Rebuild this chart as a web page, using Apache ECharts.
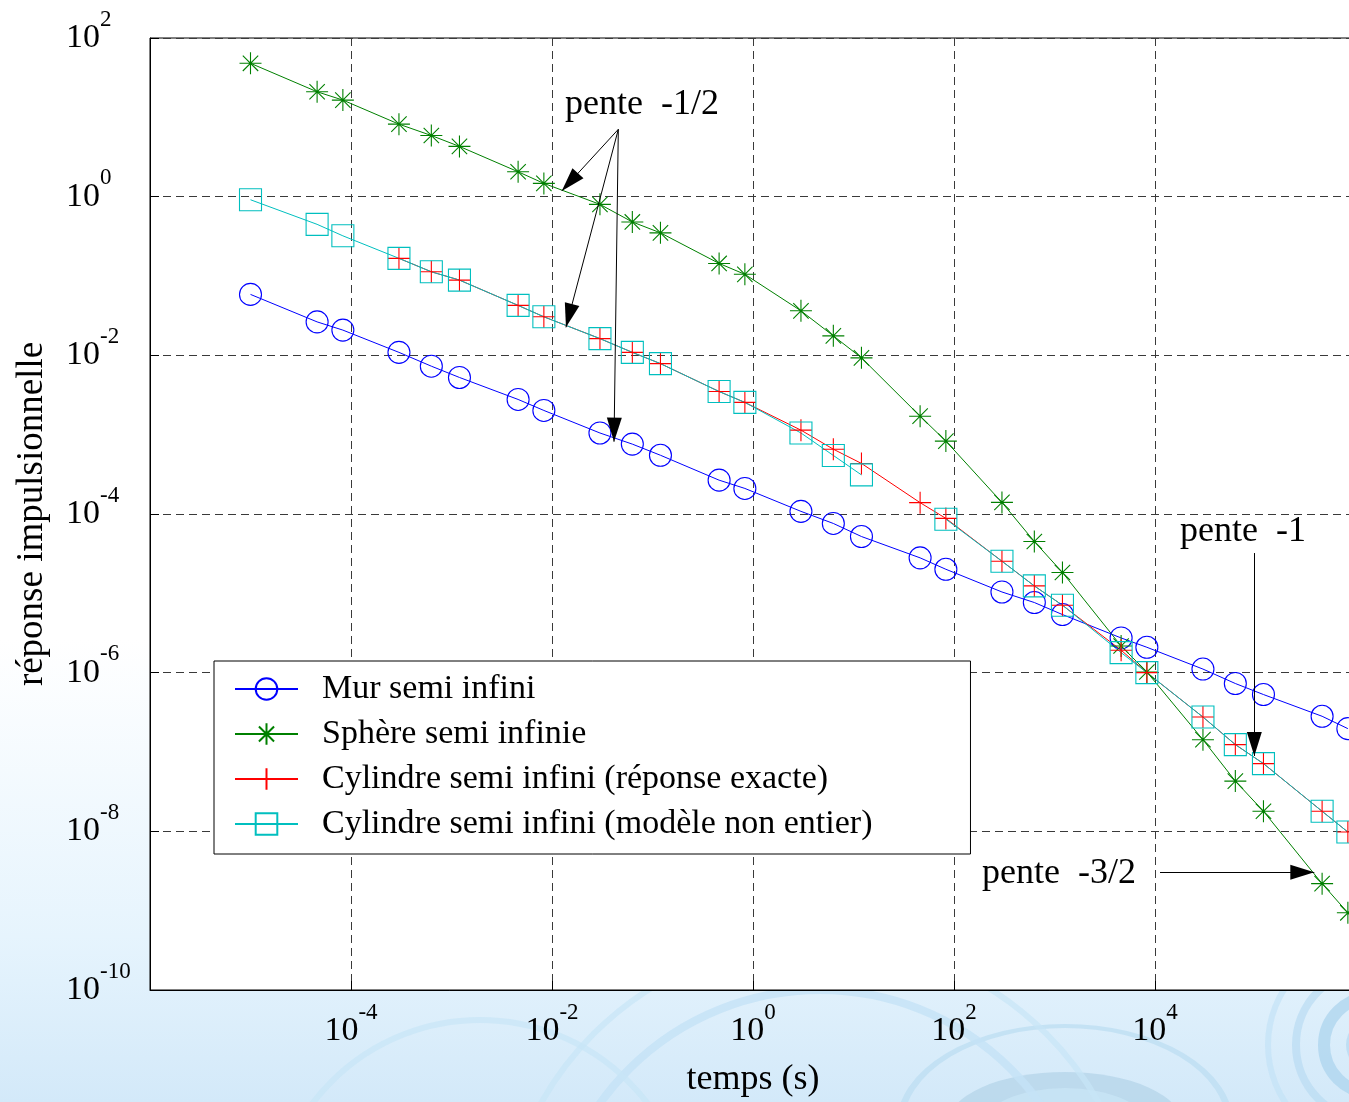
<!DOCTYPE html>
<html>
<head>
<meta charset="utf-8">
<title>Réponse impulsionnelle</title>
<script src="https://cdn.jsdelivr.net/npm/echarts@6/dist/echarts.min.js"></script>
<style>
  html, body { margin: 0; padding: 0; background: #fff; }
  #chart { width: 1349px; height: 1102px; }
</style>
</head>
<body>
<div id="chart"></div>
<script>
// instants (s)
var temps = [1e-5, 4.6e-5, 8.3e-5, 3e-4, 6.3e-4, 1.2e-3, 4.6e-3, 8.3e-3, 3e-2, 6.3e-2,
  0.12, 0.46, 0.83, 3, 6.3, 12, 46, 83, 300, 630,
  1200, 4600, 8300, 3e4, 6.3e4, 1.2e5, 4.6e5, 8.3e5];

var mur = [0.0586, 0.0264, 0.0208, 0.0109, 7.3e-3, 5.26e-3, 2.78e-3, 2.02e-3, 1.05e-3, 7.6e-4,
  5.5e-4, 2.67e-4, 2.1e-4, 1.08e-4, 7.6e-5, 5.2e-5, 2.8e-5, 2.01e-5, 1.04e-5, 7.66e-6,
  5.4e-6, 2.74e-6, 2.09e-6, 1.11e-6, 7.3e-7, 5.3e-7, 2.82e-7, 1.97e-7];

var sphere = [48, 21, 16.5, 8.2, 5.9, 4.3, 2.06, 1.47, 0.80, 0.48,
  0.35, 0.144, 0.105, 0.0364, 0.0176, 0.0093, 1.71e-3, 8.3e-4, 1.4e-4, 4.5e-5,
  1.83e-5, 2.17e-6, 1.02e-6, 1.43e-7, 4.3e-8, 1.79e-8, 2.19e-9, 9.4e-10];

var cylExact = [null, null, null, 0.167, 0.113, 0.0888, 0.0426, 0.0306, 0.01625, 0.0109,
  7.86e-3, 3.5e-3, 2.55e-3, 1.14e-3, 6.56e-4, 4.34e-4, 1.39e-4, 8.8e-5, 2.54e-5, 1.24e-5,
  7.08e-6, 1.92e-6, 1.0e-6, 2.76e-7, 1.24e-7, 7.14e-8, 1.79e-8, 9.8e-9];

var cylModele = [0.914, 0.448, 0.321, 0.167, 0.113, 0.0888, 0.0426, 0.0306, 0.01625, 0.0109,
  7.86e-3, 3.5e-3, 2.55e-3, 1.05e-3, 5.47e-4, 3.11e-4, null, 8.6e-5, 2.54e-5, 1.24e-5,
  7.08e-6, 1.79e-6, 1.0e-6, 2.76e-7, 1.24e-7, 7.14e-8, 1.79e-8, 9.8e-9];

var noms = ['Mur semi infini', 'Sphère semi infinie',
  'Cylindre semi infini (réponse exacte)', 'Cylindre semi infini (modèle non entier)'];

// annotations (coordonnées données)
var notes = [
  { text: 'pente  -1/2', at: [0.01346, 14.7] },
  { text: 'pente  -1', at: [17740, 5.93e-5] },
  { text: 'pente  -3/2', at: [190, 2.9e-9] }
];
var fleches = [
  [[0.0457, 7.06], [0.0125, 1.18]],
  [[0.0457, 7.06], [0.01377, 0.02254]],
  [[0.0457, 7.06], [0.0414, 8.15e-4]],
  [[97300, 3.22e-5], [97300, 8.9e-8]],
  [[11220, 3.04e-9], [384600, 3.04e-9]]
];

var FONT = 'Liberation Serif';

function pairs(ys) {
  return temps.map(function (t, i) { return [t, ys[i] == null ? '-' : ys[i]]; });
}

function decade(v) {
  return '{b|10}{s|' + Math.round(Math.log10(v)) + '}';
}
var richLbl = {
  b: { fontFamily: FONT, fontSize: 34, lineHeight: 60, color: '#000' },
  s: { fontFamily: FONT, fontSize: 23, lineHeight: 20, verticalAlign: 'top', color: '#000' }
};

var gridDash = { color: '#3a3a3a', width: 1, type: [8, 5] };

var etoile = 'path://M10,0L10,20M0,10L20,10M3,3L17,17M17,3L3,17';
var plus = 'path://M10,0L10,20M0,10L20,10';
var pointe = 'path://M0,0M0,24L7.5,48L-7.5,48Z';

function mk(name, ys, color, symbol) {
  return {
    name: name, type: 'line', data: pairs(ys),
    symbol: symbol, symbolSize: 22,
    lineStyle: { color: color, width: 1 },
    itemStyle: { color: 'rgba(0,0,0,0)', borderColor: color, borderWidth: 1.1 },
    emphasis: { disabled: true },
    connectNulls: false
  };
}

var chart = echarts.init(document.getElementById('chart'));

var ripples = [
  { type: 'circle', x: 1372, y: 1045, shape: { r: 26 }, style: { fill: 'rgba(170,210,236,0.55)' } },
  { type: 'circle', x: 1372, y: 1045, shape: { r: 48 }, style: { fill: 'none', stroke: 'rgba(172,212,238,0.75)', lineWidth: 12 } },
  { type: 'circle', x: 1372, y: 1045, shape: { r: 76 }, style: { fill: 'none', stroke: 'rgba(185,220,242,0.7)', lineWidth: 8 } },
  { type: 'circle', x: 1372, y: 1045, shape: { r: 104 }, style: { fill: 'none', stroke: 'rgba(195,226,246,0.7)', lineWidth: 6 } },
  { type: 'circle', x: 1065, y: 1125, scaleY: 0.45, shape: { r: 118 }, style: { fill: 'rgba(182,214,234,0.8)' } },
  { type: 'circle', x: 1065, y: 1125, scaleY: 0.45, shape: { r: 82 }, style: { fill: 'rgba(200,228,245,0.85)' } },
  { type: 'circle', x: 1065, y: 1125, scaleY: 0.6, shape: { r: 165 }, style: { fill: 'none', stroke: 'rgba(190,222,243,0.8)', lineWidth: 7 } },
  { type: 'circle', x: 820, y: 1260, shape: { r: 270 }, style: { fill: 'none', stroke: 'rgba(196,226,246,0.8)', lineWidth: 8 } },
  { type: 'circle', x: 820, y: 1260, shape: { r: 320 }, style: { fill: 'none', stroke: 'rgba(200,229,247,0.7)', lineWidth: 6 } },
  { type: 'circle', x: 480, y: 1230, shape: { r: 210 }, style: { fill: 'none', stroke: 'rgba(200,229,247,0.7)', lineWidth: 6 } }
];
ripples.forEach(function (r) { r.z = -10; r.silent = true; });

var option = {
  animation: false,
  backgroundColor: {
    type: 'linear', x: 0, y: 0, x2: 0, y2: 1,
    colorStops: [
      { offset: 0, color: '#ffffff' },
      { offset: 0.58, color: '#ffffff' },
      { offset: 0.85, color: '#e6f4fd' },
      { offset: 1, color: '#d3e9f9' }
    ]
  },
  graphic: ripples,
  grid: {
    left: 150, top: 38, width: 1206, height: 952,
    outerBoundsMode: 'none', containLabel: false,
    show: true, backgroundColor: '#fff', borderColor: '#000', borderWidth: 1
  },
  legend: {
    data: noms,
    orient: 'vertical',
    left: 214, top: 661,
    padding: [11, 98, 13, 20],
    itemWidth: 63, itemHeight: 27, itemGap: 11,
    backgroundColor: '#fff', borderColor: '#000', borderWidth: 1,
    textStyle: { fontFamily: FONT, fontSize: 34, color: '#000', padding: [0, 0, 0, 19] },
    selectedMode: false
  },
  xAxis: {
    type: 'log', logBase: 10, min: 1e-6, max: 1e6, interval: 2,
    name: 'temps (s)', nameLocation: 'middle', nameGap: 72,
    nameTextStyle: { fontFamily: FONT, fontSize: 36, color: '#000' },
    axisLine: { lineStyle: { color: '#000', width: 1 } },
    axisTick: { inside: true, length: 9, lineStyle: { color: '#000' } },
    minorTick: { show: false },
    axisLabel: { formatter: decade, rich: richLbl, margin: 11, showMinLabel: false, showMaxLabel: false },
    splitLine: { show: true, lineStyle: gridDash }
  },
  yAxis: {
    type: 'log', logBase: 10, min: 1e-10, max: 1e2, interval: 2,
    name: 'réponse impulsionnelle', nameLocation: 'middle', nameGap: 99, nameRotate: 90,
    nameTextStyle: { fontFamily: FONT, fontSize: 37, color: '#000' },
    axisLine: { lineStyle: { color: '#000', width: 1 } },
    axisTick: { inside: true, length: 9, lineStyle: { color: '#000' } },
    axisLabel: { formatter: decade, rich: richLbl, margin: 84, align: 'left' },
    splitLine: { show: true, lineStyle: gridDash }
  },
  series: [
    mk(noms[0], mur, '#0000ff', 'circle'),
    mk(noms[1], sphere, '#008000', etoile),
    mk(noms[2], cylExact, '#ff0000', plus),
    mk(noms[3], cylModele, '#00bfbf', 'rect'),
    {
      name: 'annotations', type: 'line', data: [], silent: true,
      markLine: {
        silent: true, animation: false,
        symbol: ['none', pointe], symbolSize: [15, 48],
        label: { show: false },
        lineStyle: { color: '#000', width: 1, type: 'solid' },
        itemStyle: { color: '#000' },
        emphasis: { disabled: true },
        data: fleches.map(function (f) { return [{ coord: f[0] }, { coord: f[1] }]; })
      },
      markPoint: {
        silent: true, animation: false,
        symbol: 'circle', symbolSize: 0,
        label: { show: true, position: 'right', distance: 0, formatter: '{b}', fontFamily: FONT, fontSize: 36, color: '#000' },
        data: notes.map(function (n) { return { name: n.text, coord: n.at }; })
      }
    }
  ]
};

chart.setOption(option);
</script>
</body>
</html>
